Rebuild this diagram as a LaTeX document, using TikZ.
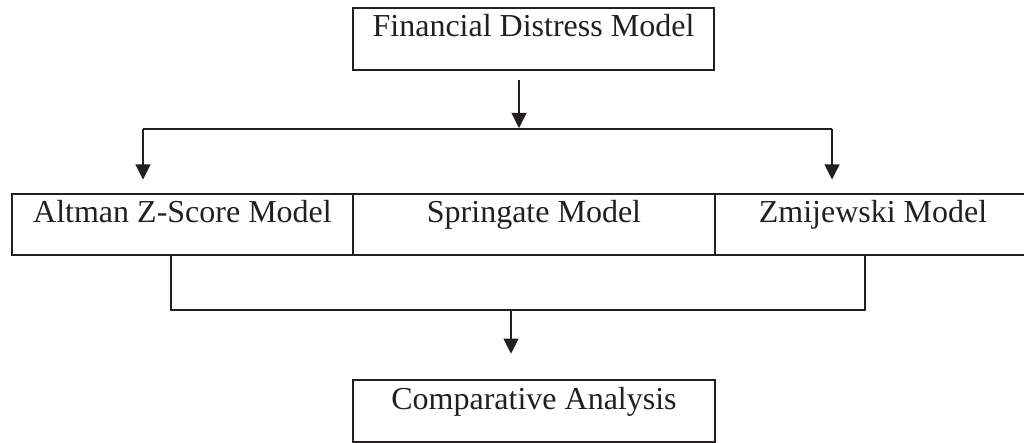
\documentclass[tikz,border=0pt]{standalone}
\usepackage{fontspec}
\setmainfont{Liberation Serif}
\usetikzlibrary{arrows.meta}
\definecolor{ink}{HTML}{231F20}
\begin{document}
\begin{tikzpicture}[x=1pt,y=-1pt,
  boxnode/.style={draw=ink,line width=2.6pt,inner sep=0pt,text=ink,
    font=\fontsize{32}{38}\selectfont,text height=22pt,text depth=26pt,
    minimum height=62pt},
  rownode/.style={boxnode,minimum height=61pt,text depth=25pt},
  conn/.style={draw=ink,line width=1.1pt},
  arr/.style={conn,-{Triangle[width=15pt,length=15pt]}}]
\useasboundingbox (0,0) rectangle (1024,443);
\node[boxnode,minimum width=361pt] (top) at (533.5,39) {Financial Distress Model};
\node[rownode,minimum width=341pt] (alt) at (182.5,224.5) {Altman Z-Score Model};
\node[rownode,minimum width=362pt] (spr) at (534,224.5) {Springate Model};
\node[rownode,minimum width=316pt] (zmi) at (873,224.5) {Zmijewski Model};
\node[boxnode,minimum width=362pt] (comp) at (534,411) {Comparative Analysis};
% top splitter
\coordinate (tsrc) at (519,80);
\coordinate (tj) at (519,129);
\coordinate (tl) at (143,129);
\coordinate (tr) at (832,129);
\draw[arr,shorten >=1pt] (tsrc) -- (tj);
\draw[conn] (tl) -- (tr);
\draw[arr] (tl) -- (tl |- 0,179.5) coordinate (tla);
\draw[arr] (tr) -- (tr |- 0,179.5) coordinate (tra);
% bottom merger
\coordinate (bl) at (171,310);
\coordinate (br) at (865,310);
\coordinate (bj) at (511,310);
\draw[conn] (alt.south -| bl) -- (bl) -- (br) -- (zmi.south -| br);
\draw[arr] (bj) -- ([yshift=25pt]comp.north -| bj);
\end{tikzpicture}
\end{document}
